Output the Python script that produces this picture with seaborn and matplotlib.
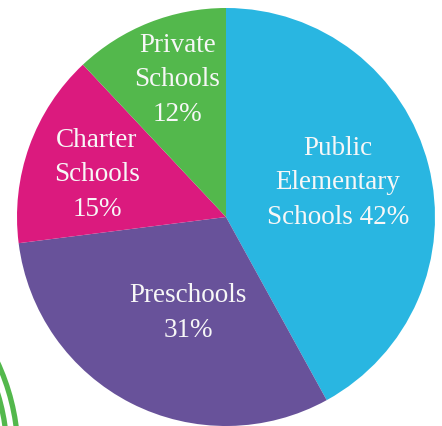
import matplotlib
matplotlib.use("Agg")
import matplotlib.pyplot as plt
from matplotlib.patches import Circle
import seaborn as sns

# ---- data ----
categories = ["Public\nElementary\nSchools 42%", "Preschools\n31%", "Charter\nSchools\n15%", "Private\nSchools\n12%"]
shares = [42, 31, 15, 12]
colors = ["#29B6E1", "#68529A", "#DB1A7E", "#53B84C"]
# label anchor positions (pie data coords, radius = 1)
label_xy = [(0.536, 0.163), (-0.182, -0.459), (-0.617, 0.201), (-0.232, 0.656)]

sns.set_theme(style="white")
plt.rcParams["font.family"] = ["Liberation Serif", "DejaVu Serif"]

W, H = 442, 426
fig = plt.figure(figsize=(W / 100, H / 100), dpi=100)

# decorative rings in the lower-left corner
bg = fig.add_axes([0, 0, 1, 1])
bg.set_xlim(0, W)
bg.set_ylim(H, 0)
bg.axis("off")
for r in (220, 209):
    bg.add_patch(Circle((-202, 455), r, fill=False, edgecolor="#53B84C", linewidth=3.8))

ax = fig.add_axes([17 / W, 0, 418 / W, 418 / H])
ax.pie(shares, colors=colors, startangle=90, counterclock=False, radius=1,
       wedgeprops=dict(linewidth=0))
ax.set_xlim(-1, 1)
ax.set_ylim(-1, 1)
ax.set_aspect("equal")
ax.axis("off")

for text, (x, y) in zip(categories, label_xy):
    ax.text(x, y, text, ha="center", va="center", color="#F7F7F7",
            fontsize=19.5, linespacing=1.5)

fig.savefig("out.png", dpi=100)
